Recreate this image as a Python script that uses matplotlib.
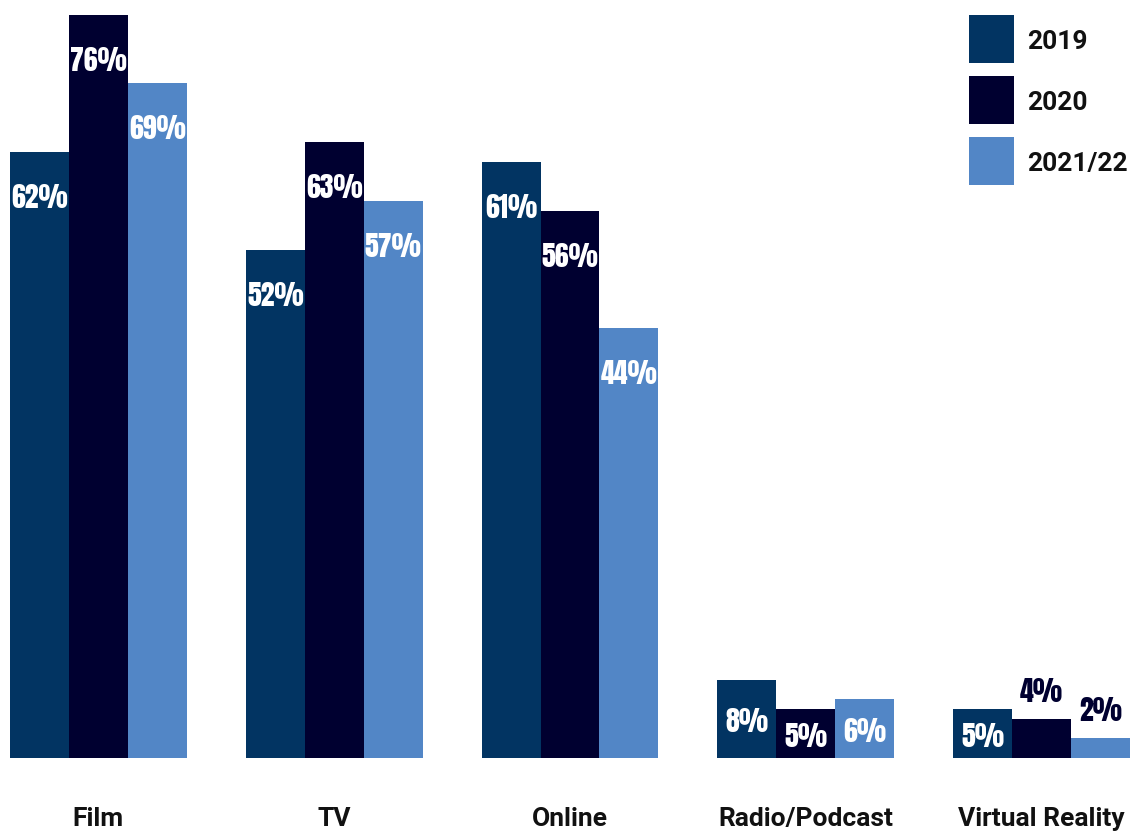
import matplotlib
matplotlib.use("Agg")
import matplotlib.pyplot as plt
from matplotlib.patches import Rectangle
import numpy as np

# Share of respondents by medium and survey year
categories = ["Film", "TV", "Online", "Radio/Podcast", "Virtual Reality"]
series_names = ["2019", "2020", "2021/22"]
values_2019 = [62, 52, 61, 8, 5]
values_2020 = [76, 63, 56, 5, 4]
values_2021_22 = [69, 57, 44, 6, 2]
series_values = [values_2019, values_2020, values_2021_22]
colors = ["#023462", "#000030", "#5286C6"]

W, H, DPI = 1131, 831, 100
fig = plt.figure(figsize=(W / DPI, H / DPI), dpi=DPI)
fig.patch.set_facecolor("white")


def fx(px):
    return px / W


def fy(py):
    return 1 - py / H


# axes: baseline at y=758 px, top of the scale at y=15 px
ax = fig.add_axes([fx(10), fy(758), (1130 - 10) / W, (758 - 15) / H])
ax.set_xlim(-0.5, 18.5)
ax.set_ylim(0, 76)
for s in ax.spines.values():
    s.set_visible(False)
ax.set_yticks([])

label_font = dict(family=["Anton", "Oswald", "DejaVu Sans"], fontsize=20)
cap_px = 27
px_per_unit = (758 - 15) / 76.0

group_x = np.arange(len(categories)) * 4
for j, (vals, col) in enumerate(zip(series_values, colors)):
    xs = group_x + j
    ax.bar(xs, vals, width=1.0, color=col, linewidth=0)
    for x, v in zip(xs, vals):
        h = v * px_per_unit
        if v >= 5:
            off = -min(56, (h + cap_px) / 2)
            ax.annotate(f"{v}%", (x, v), xytext=(0, off), textcoords="offset pixels",
                        ha="center", va="baseline", color="white", **label_font)
        else:
            ax.annotate(f"{v}%", (x, v), xytext=(0, 17), textcoords="offset pixels",
                        ha="center", va="baseline", color=colors[1], **label_font)

ax.set_xticks(group_x + 1)
ax.set_xticklabels(categories, family="Roboto", fontweight="bold", fontsize=19,
                   color="#111111")
ax.tick_params(axis="x", length=0, pad=(826 - 758) * 72 / DPI)
for t in ax.get_xticklabels():
    t.set_va("baseline")

# legend drawn as swatches with labels on the right
for i, (name, col) in enumerate(zip(series_names, colors)):
    top = 15 + i * 61
    fig.add_artist(Rectangle((fx(969), fy(top + 48)), 45 / W, 48 / H,
                             transform=fig.transFigure, facecolor=col,
                             edgecolor="none"))
    fig.text(fx(1027), fy(top + 34), name, family="Roboto", fontweight="bold",
             fontsize=19, color="#111111", ha="left", va="baseline")

fig.savefig("out.png", dpi=DPI, facecolor="white")
